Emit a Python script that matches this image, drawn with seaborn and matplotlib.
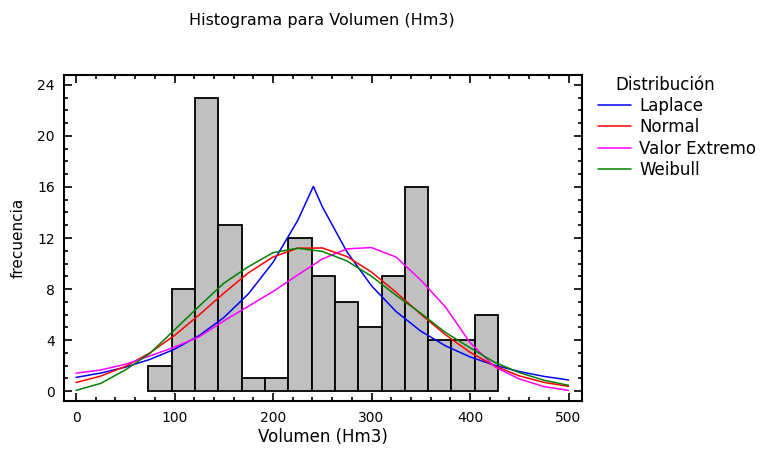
import numpy as np
import pandas as pd
import matplotlib
matplotlib.use("Agg")
import matplotlib.pyplot as plt
import seaborn as sns
from matplotlib.ticker import MultipleLocator
from matplotlib.lines import Line2D

# histogram counts (15 bins between the min and max of the sample)
counts = [2, 8, 23, 13, 1, 1, 12, 9, 7, 5, 9, 16, 4, 4, 6]
bin_lo, bin_hi = 73.5, 428.5

# fitted curves
x_grid = [0, 25, 50, 75, 100, 125, 150, 175, 200, 225, 250, 275, 300,
          325, 350, 375, 400, 425, 450, 475, 500]
x_laplace = [0, 25, 50, 75, 100, 125, 150, 175, 200, 225, 241, 250, 275, 300,
             325, 350, 375, 400, 425, 450, 475, 500]
laplace = [1.07, 1.41, 1.87, 2.48, 3.28, 4.35, 5.76, 7.62, 10.09, 13.37, 16.05, 14.46,
           10.92, 8.25, 6.23, 4.70, 3.55, 2.68, 2.02, 1.53, 1.15, 0.87]
normal = [0.67, 1.17, 1.93, 2.99, 4.36, 5.97, 7.67, 9.27, 10.51, 11.2, 11.22,
          10.55, 9.33, 7.74, 6.03, 4.42, 3.04, 1.97, 1.19, 0.68, 0.37]
valor_extremo = [1.4, 1.65, 2.1, 2.75, 3.45, 4.25, 5.5, 6.65, 7.8, 9.1, 10.35,
                 11.15, 11.25, 10.5, 8.7, 6.6, 3.8, 1.9, 0.95, 0.35, 0.05]
weibull = [0.05, 0.6, 1.65, 2.95, 4.8, 6.65, 8.45, 9.75, 10.85, 11.2, 10.95,
           10.2, 9.0, 7.5, 6.1, 4.6, 3.4, 2.25, 1.45, 0.85, 0.45]

dist_names = ["Laplace", "Normal", "Valor Extremo", "Weibull"]
dist_colors = ["#0000ff", "#ff0000", "#ff00ff", "#008000"]

sns.set_style("white")
plt.rcParams.update({
    "font.family": ["DejaVu Sans"],
    "text.color": "black",
    "axes.labelcolor": "black",
    "xtick.color": "black",
    "ytick.color": "black",
})

fig = plt.figure(figsize=(7.66, 4.49), dpi=100)
ax = fig.add_axes([64/766, 1 - 401/449, (582 - 64)/766, (401 - 75)/449])

width = (bin_hi - bin_lo) / len(counts)
centers = bin_lo + width * (np.arange(len(counts)) + 0.5)
sns.histplot(x=centers, weights=counts, bins=len(counts), binrange=(bin_lo, bin_hi),
             color="#c0c0c0", edgecolor="black", linewidth=1.3, alpha=1, ax=ax)

curves = pd.concat([
    pd.DataFrame({"x": x_laplace, "y": laplace, "dist": "Laplace"}),
    pd.DataFrame({"x": x_grid, "y": normal, "dist": "Normal"}),
    pd.DataFrame({"x": x_grid, "y": valor_extremo, "dist": "Valor Extremo"}),
    pd.DataFrame({"x": x_grid, "y": weibull, "dist": "Weibull"}),
])
sns.lineplot(data=curves, x="x", y="y", hue="dist", hue_order=dist_names,
             palette=dist_colors, linewidth=1.1, legend=False, ax=ax)

ax.set_xlim(-12.2, 513.7)
ax.set_ylim(-0.78, 24.78)
ax.xaxis.set_major_locator(MultipleLocator(100))
ax.xaxis.set_minor_locator(MultipleLocator(20))
ax.yaxis.set_major_locator(MultipleLocator(4))
ax.yaxis.set_minor_locator(MultipleLocator(1))
ax.tick_params(which="both", direction="in", top=True, right=True,
               bottom=True, left=True, width=1.2, labelsize=10)
ax.tick_params(which="major", length=6)
ax.tick_params(which="minor", length=3)
ax.tick_params(axis="x", pad=7.5)
ax.tick_params(axis="y", pad=6.5)
for s in ax.spines.values():
    s.set_linewidth(1.5)
    s.set_color("black")

ax.set_xlabel("Volumen (Hm3)", fontsize=12)
ax.set_ylabel("frecuencia", fontsize=11)
ax.xaxis.set_label_coords(0.5, -0.083)
ax.yaxis.set_label_coords(-0.075, 0.5)
fig.text(322/766, 1 - 20/449, "Histograma para Volumen (Hm3)", ha="center",
         va="center", fontsize=11.5)

fig.text(615/766, 1 - 85/449, "Distribución", ha="left", va="center", fontsize=12)
handles = [Line2D([], [], color=c, linewidth=1.1) for c in dist_colors]
leg = fig.legend(handles, dist_names, loc="upper left",
                 bbox_to_anchor=(598/766, 1 - 97/449), frameon=False,
                 fontsize=12, handlelength=2.0, handletextpad=0.48,
                 labelspacing=0.2, borderpad=0, borderaxespad=0)

fig.savefig("out.png", dpi=100)
